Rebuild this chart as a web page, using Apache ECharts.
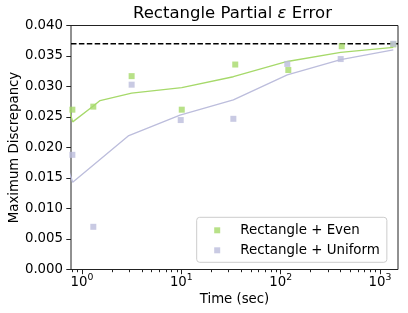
<!DOCTYPE html>
<html><head><meta charset="utf-8">
<script src="https://cdn.jsdelivr.net/npm/echarts@6/dist/echarts.min.js"></script>
<style>html,body{margin:0;padding:0;background:#fff}#c{width:408px;height:313px}</style>
</head><body><div id="c"></div>
<script>
// ---- data ----
const evenTimes = [0.80, 1.30, 3.16, 10.1, 34.9, 119.4, 412, 1361];
const evenErr = [0.0262, 0.0267, 0.0317, 0.0262, 0.0336, 0.0327, 0.0366, 0.0369];
const uniformTimes = [0.80, 1.30, 3.16, 9.86, 33.4, 116.6, 402, 1361];
const uniformErr = [0.0188, 0.0070, 0.0303, 0.0245, 0.0247, 0.0337, 0.0345, 0.0370];
const evenFitTimes = [0.72, 0.806, 1.30, 1.52, 3.16, 10.1, 33.4, 116.6, 402, 1361];
const evenFitErr = [0.0270, 0.0242, 0.0268, 0.0277, 0.0289, 0.0298, 0.0316, 0.0341, 0.0356, 0.0364];
const uniformFitTimes = [0.72, 0.806, 2.92, 9.7, 33.4, 116.6, 402, 1361];
const uniformFitErr = [0.0166, 0.0143, 0.0219, 0.0253, 0.0278, 0.0319, 0.0344, 0.0360];
const targetError = 0.037;
const xMajorTicks = [1, 10, 100, 1000];
const xMinorTicks = [0.8, 0.9, 2, 3, 4, 5, 6, 7, 8, 9, 20, 30, 40, 50, 60, 70, 80, 90, 200, 300, 400, 500, 600, 700, 800, 900];
const xRange = [0.775, 1518];
const yRange = [0, 0.04];
const yStep = 0.005;

const FONT = 'DejaVu Sans';
const GREEN = '#a6d96a';
const PURPLE = '#bcbddc';
const lg = Math.log10;
const pair = (ts, vs) => ts.map((t, i) => [lg(t), vs[i]]);

const chart = echarts.init(document.getElementById('c'), null, {renderer: 'canvas'});
const XMIN = lg(xRange[0]), XMAX = lg(xRange[1]);
chart.setOption({
  animation: false,
  title: {
    text: 'Rectangle Partial {e|ε} Error',
    left: 133, top: 5, padding: 0,
    textStyle: {
      fontFamily: FONT, fontSize: 16.5, fontWeight: 'normal', color: '#000',
      rich: {e: {fontFamily: FONT, fontSize: 16.5, fontStyle: 'italic', color: '#000'}}
    }
  },
  grid: {left: 71, top: 25.5, width: 327, height: 244, show: true, borderColor: '#222', borderWidth: 1,
         containLabel: false, outerBoundsMode: 'none'},
  legend: {
    orient: 'vertical', left: 196.7, top: 217.3,
    padding: [5, 7, 4, 17.5], itemGap: 4, itemWidth: 6, itemHeight: 6,
    backgroundColor: 'rgba(255,255,255,0.8)', borderColor: '#cccccc', borderWidth: 1, borderRadius: 3,
    textStyle: {fontFamily: FONT, fontSize: 13.4, color: '#000', lineHeight: 16, padding: [0, 0, 0, 15]},
    data: ['Rectangle + Even', 'Rectangle + Uniform']
  },
  xAxis: [{
    type: 'value', min: XMIN, max: XMAX, position: 'bottom',
    axisLine: {show: false, onZero: false}, splitLine: {show: false},
    axisTick: {show: true, customValues: xMajorTicks.map(lg), length: 4.7, lineStyle: {color: '#222', width: 1}},
    axisLabel: {
      customValues: xMajorTicks.map(lg), margin: 4,
      formatter: v => '{b|10}{s|' + Math.round(v) + '}',
      rich: {
        b: {fontFamily: FONT, fontSize: 13.3, color: '#000', lineHeight: 16, padding: [1, 0, 0, 0], verticalAlign: 'bottom'},
        s: {fontFamily: FONT, fontSize: 9.3, color: '#000', lineHeight: 11, verticalAlign: 'top'}
      }
    },
    name: 'Time (sec)', nameLocation: 'middle', nameGap: 24, nameMoveOverlap: false,
    nameTextStyle: {fontFamily: FONT, fontSize: 13.3, color: '#000'}
  }, {
    type: 'value', min: XMIN, max: XMAX, position: 'bottom',
    axisLine: {show: false, onZero: false}, splitLine: {show: false}, axisLabel: {show: false},
    axisTick: {show: true, customValues: xMinorTicks.map(lg), length: 2.7, lineStyle: {color: '#222', width: 1}}
  }],
  yAxis: {
    type: 'value', min: yRange[0], max: yRange[1], interval: yStep, position: 'left',
    axisLine: {show: false, onZero: false}, splitLine: {show: false},
    axisTick: {show: true, length: 4.7, lineStyle: {color: '#222', width: 1}},
    axisLabel: {formatter: v => v.toFixed(3), margin: 8, fontFamily: FONT, fontSize: 13.3, color: '#000'},
    name: 'Maximum Discrepancy', nameLocation: 'middle', nameGap: 50, nameMoveOverlap: false,
    nameTextStyle: {fontFamily: FONT, fontSize: 13.3, color: '#000'}
  },
  series: [{
    type: 'line', name: 'target', data: [[XMIN, targetError], [XMAX, targetError]],
    showSymbol: false, symbol: 'none', clip: true, z: 2,
    lineStyle: {color: '#000', width: 1.5, type: [5.5, 2.4]}
  }, {
    type: 'line', name: 'evenFit', data: pair(evenFitTimes, evenFitErr),
    showSymbol: false, symbol: 'none', clip: true, z: 2,
    lineStyle: {color: GREEN, width: 1.3}
  }, {
    type: 'line', name: 'uniformFit', data: pair(uniformFitTimes, uniformFitErr),
    showSymbol: false, symbol: 'none', clip: true, z: 2,
    lineStyle: {color: PURPLE, width: 1.3}
  }, {
    type: 'scatter', name: 'Rectangle + Even', data: pair(evenTimes, evenErr),
    symbol: 'rect', symbolSize: 6, z: 3, itemStyle: {color: GREEN}
  }, {
    type: 'scatter', name: 'Rectangle + Uniform', data: pair(uniformTimes, uniformErr),
    symbol: 'rect', symbolSize: 6, z: 3, itemStyle: {color: PURPLE}
  }]
});
</script></body></html>
